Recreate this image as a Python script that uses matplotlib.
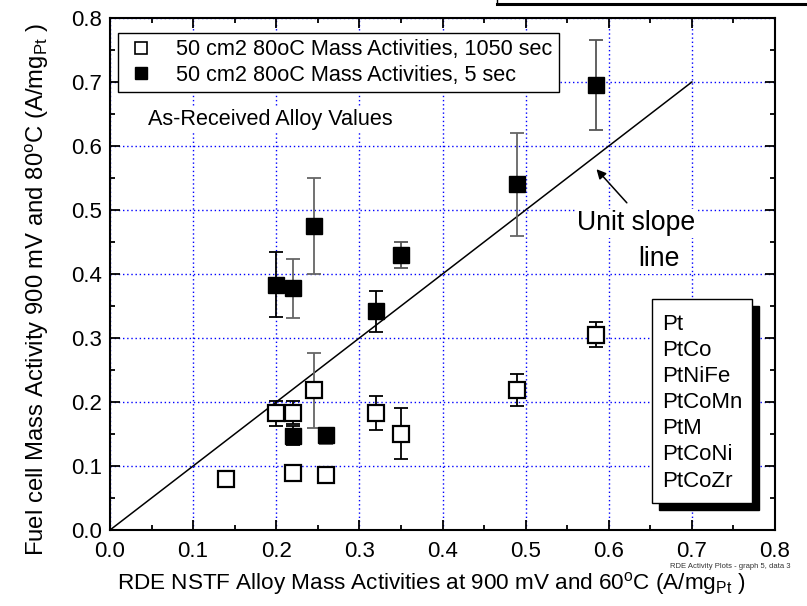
import matplotlib
matplotlib.use('Agg')
import matplotlib.pyplot as plt
from matplotlib.patches import Rectangle
from matplotlib.lines import Line2D
from matplotlib.ticker import MultipleLocator

plt.rcParams['font.family'] = ['Liberation Sans', 'DejaVu Sans']
plt.rcParams['mathtext.fontset'] = 'custom'
plt.rcParams['mathtext.rm'] = 'Liberation Sans'
plt.rcParams['mathtext.it'] = 'Liberation Sans:italic'

# 1050 sec (open squares)
open_x = [0.14, 0.20, 0.22, 0.245, 0.22, 0.26, 0.32, 0.35, 0.49, 0.585]
open_y = [0.080, 0.183, 0.183, 0.219, 0.089, 0.086, 0.183, 0.150, 0.219, 0.305]
open_lo = [0.080, 0.162, 0.165, 0.159, 0.082, 0.078, 0.156, 0.111, 0.194, 0.286]
open_hi = [0.080, 0.202, 0.202, 0.277, 0.097, 0.094, 0.210, 0.190, 0.244, 0.325]
open_ecol = ['k', 'k', 'k', '#666666', 'k', '#444444', 'k', 'k', 'k', 'k']

# 5 sec (filled squares)
fill_x = [0.20, 0.22, 0.245, 0.32, 0.35, 0.49, 0.585, 0.22, 0.26]
fill_y = [0.383, 0.378, 0.475, 0.342, 0.430, 0.540, 0.695, 0.147, 0.148]
fill_lo = [0.333, 0.331, 0.400, 0.310, 0.410, 0.460, 0.625, 0.133, 0.135]
fill_hi = [0.434, 0.423, 0.550, 0.373, 0.450, 0.620, 0.765, 0.162, 0.157]
fill_ecol = ['k', '#666666', '#666666', 'k', '#555555', '#666666', '#555555', 'k', '#666666']

alloys = ['Pt', 'PtCo', 'PtNiFe', 'PtCoMn', 'PtM', 'PtCoNi', 'PtCoZr']
legend_labels = ['50 cm2 80oC Mass Activities, 1050 sec',
                 '50 cm2 80oC Mass Activities, 5 sec']

W, H = 807, 606
fig = plt.figure(figsize=(W / 100, H / 100), dpi=100)
ax = fig.add_axes([110 / W, 1 - 530 / H, 665 / W, 512 / H])

def fx(x):
    return x / W

def fy(y):
    return 1 - y / H

# unit slope line
ax.plot([0, 0.7], [0, 0.7], color='k', lw=1.1, zorder=3)

for x, y, lo, hi, c in zip(open_x, open_y, open_lo, open_hi, open_ecol):
    if hi > lo:
        ax.errorbar([x], [y], yerr=[[y - lo], [hi - y]], fmt='none', ecolor=c,
                    elinewidth=1.3, capsize=5, capthick=1.3, zorder=4)
for x, y, lo, hi, c in zip(fill_x, fill_y, fill_lo, fill_hi, fill_ecol):
    ax.errorbar([x], [y], yerr=[[y - lo], [hi - y]], fmt='none', ecolor=c,
                elinewidth=1.3, capsize=5, capthick=1.3, zorder=4)

ax.plot(open_x, open_y, 's', ms=11.5, mfc='white', mec='k', mew=1.6, ls='none', zorder=5)
ax.plot(fill_x, fill_y, 's', ms=11.5, mfc='k', mec='k', mew=1.0, ls='none', zorder=5)

ax.set_xlim(0, 0.8)
ax.set_ylim(0, 0.8)
ax.xaxis.set_major_locator(MultipleLocator(0.1))
ax.yaxis.set_major_locator(MultipleLocator(0.1))
ax.xaxis.set_minor_locator(MultipleLocator(0.05))
ax.yaxis.set_minor_locator(MultipleLocator(0.05))
ax.xaxis.set_major_formatter(plt.FormatStrFormatter('%.1f'))
ax.yaxis.set_major_formatter(plt.FormatStrFormatter('%.1f'))
ax.tick_params(which='both', direction='in', top=True, right=True, width=1.3)
ax.tick_params(which='major', length=7, labelsize=16)
ax.tick_params(axis='x', which='major', pad=8)
ax.tick_params(axis='y', which='major', pad=6)
ax.tick_params(which='minor', length=3.5)
for s in ax.spines.values():
    s.set_linewidth(1.5)
ax.grid(True, which='major', color='blue', ls=(0, (1, 2)), lw=1.0)
ax.set_axisbelow(True)

ax.set_xlabel('RDE NSTF Alloy Mass Activities at 900 mV and 60$^{\\mathrm{o}}$C (A/mg$_{\\mathrm{Pt}}$ )',
              fontsize=16.2, labelpad=6, x=0.483)
ax.set_ylabel('Fuel cell Mass Activity 900 mV and 80$^{\\mathrm{o}}$C (A/mg$_{\\mathrm{Pt}}$ )',
              fontsize=17.2, labelpad=14, y=0.47)

handles = [Line2D([], [], marker='s', ls='none', ms=8, mfc='white', mec='k', mew=1.2),
           Line2D([], [], marker='s', ls='none', ms=8, mfc='k', mec='k')]
leg = ax.legend(handles, legend_labels, loc='upper left', bbox_to_anchor=(0.012, 0.971),
                fontsize=15.6, frameon=True, fancybox=False, framealpha=1, edgecolor='k',
                borderaxespad=0, handlelength=1.5, handletextpad=0.9, borderpad=0.3,
                labelspacing=0.2)
leg.get_frame().set_linewidth(1.0)
leg.set_zorder(10)

ax.text(0.0457, 0.642, 'As-Received Alloy Values', fontsize=15.6,
        va='center', ha='left', zorder=6,
        bbox=dict(facecolor='white', edgecolor='none', pad=2))

# unit slope annotation
ax.annotate('', xy=(0.583, 0.567), xytext=(0.624, 0.508),
            arrowprops=dict(arrowstyle='-|>', color='k', lw=1.1, mutation_scale=14), zorder=6)
ax.text(0.633, 0.479, 'Unit slope', fontsize=19.2, ha='center', va='center', zorder=6,
        bbox=dict(facecolor='white', edgecolor='none', pad=1))
ax.text(0.66, 0.423, 'line', fontsize=19.2, ha='center', va='center', zorder=6,
        bbox=dict(facecolor='white', edgecolor='none', pad=1))

# alloy box with shadow
fig.add_artist(Rectangle((fx(659), fy(510)), fx(100), 204 / H, facecolor='k',
                         edgecolor='k', transform=fig.transFigure, zorder=20))
fig.add_artist(Rectangle((fx(652), fy(503)), fx(100), 204 / H, facecolor='white',
                         edgecolor='k', lw=1.0, transform=fig.transFigure, zorder=21))
for i, name in enumerate(alloys):
    fig.text(fx(662), fy(324 + 26.2 * i), name, fontsize=16, ha='left', va='center',
             zorder=22)

# cropped box at the top edge
fig.add_artist(Line2D([fx(497), fx(497)], [1.0, fy(3)], color='k', lw=1.0,
                      transform=fig.transFigure, zorder=20))
fig.add_artist(Line2D([fx(497), 1.0], [fy(3.5), fy(3.5)], color='k', lw=2.2,
                      transform=fig.transFigure, zorder=20))

fig.text(fx(790), fy(567), 'RDE Activity Plots - graph 5, data 3', fontsize=5.5,
         ha='right', va='center', color='#333333')

fig.savefig('out.png', dpi=100)
